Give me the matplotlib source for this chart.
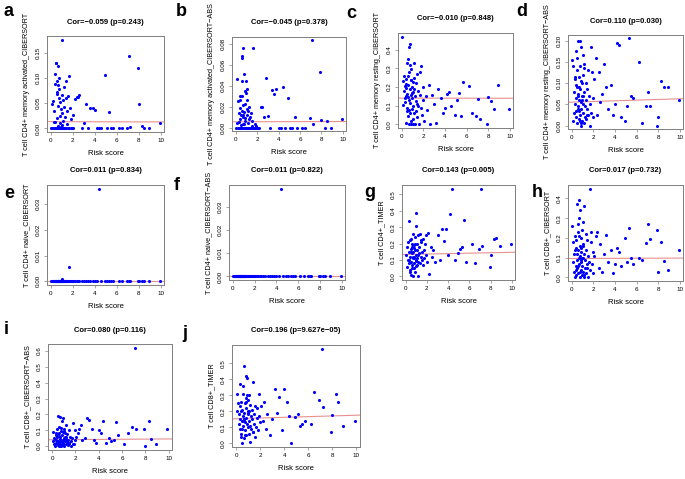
import matplotlib
matplotlib.use("Agg")
import matplotlib.pyplot as plt
import numpy as np

plt.rcParams['font.family'] = ['Liberation Sans', 'DejaVu Sans']

# risk score of each sample (shared by all panels)
risk = [0.05, 0.10, 0.15, 0.20, 0.25, 0.30, 0.33, 0.36, 0.40, 0.43,
        0.46, 0.50, 0.52, 0.55, 0.58, 0.60, 0.63, 0.65, 0.68, 0.70,
        0.72, 0.75, 0.78, 0.80, 0.83, 0.85, 0.88, 0.90, 0.93, 0.95,
        0.98, 1.00, 1.03, 1.05, 1.08, 1.10, 1.13, 1.16, 1.20, 1.24,
        1.28, 1.32, 1.36, 1.40, 1.45, 1.50, 1.55, 1.60, 1.65, 1.70,
        0.38, 0.48, 0.56, 0.62, 0.74, 0.86, 0.97, 1.18, 1.76, 1.82,
        1.88, 1.94, 2.00, 2.06, 0.28, 0.44, 0.66, 0.82, 1.02, 1.42,
        2.20, 2.35, 2.50, 2.60, 2.80, 3.00, 3.20, 3.40, 3.60, 3.80,
        4.00, 4.20, 4.40, 4.60, 4.90, 5.10, 5.30, 5.50, 5.70, 6.20,
        6.50, 6.90, 7.10, 7.20, 7.90, 8.00, 8.30, 8.50, 8.90, 9.90]

cd4_act_cib = [0.0, 0.048, 0.0, 0.055, 0.0, 0.035, 0.0, 0.088, 0.012, 0.130,
               0.0, 0.131, 0.020, 0.095, 0.0, 0.072, 0.045, 0.0, 0.086, 0.004,
               0.061, 0.0, 0.078, 0.025, 0.0, 0.052, 0.010, 0.0, 0.038, 0.0,
               0.066, 0.177, 0.0, 0.030, 0.057, 0.0, 0.015, 0.0, 0.043, 0.0,
               0.022, 0.0, 0.060, 0.0, 0.008, 0.035, 0.0, 0.064, 0.105, 0.0,
               0.108, 0.0, 0.068, 0.0, 0.100, 0.0, 0.003, 0.082, 0.040, 0.0,
               0.018, 0.0, 0.026, 0.0, 0.012, 0.0, 0.125, 0.0, 0.006, 0.095,
               0.058, 0.062, 0.063, 0.067, 0.0, 0.010, 0.048, 0.0, 0.040, 0.041,
               0.036, 0.0, 0.0, 0.0, 0.106, 0.0, 0.033, 0.0, 0.0, 0.0,
               0.0, 0.0, 0.145, 0.003, 0.120, 0.048, 0.005, 0.0, 0.0, 0.011]

cd4_act_abs = [0.0, 0.046, 0.004, 0.025, 0.0, 0.014, 0.0, 0.026, 0.008, 0.019,
               0.0, 0.012, 0.0, 0.066, 0.030, 0.068, 0.0, 0.010, 0.021, 0.003,
               0.076, 0.051, 0.0, 0.015, 0.006, 0.0, 0.022, 0.009, 0.0, 0.044,
               0.033, 0.0, 0.037, 0.012, 0.0, 0.026, 0.004, 0.0, 0.020, 0.008,
               0.0, 0.010, 0.0, 0.014, 0.0, 0.006, 0.001, 0.0, 0.076, 0.0,
               0.030, 0.002, 0.016, 0.044, 0.003, 0.035, 0.0, 0.016, 0.0, 0.003,
               0.0, 0.001, 0.0, 0.0, 0.005, 0.0, 0.012, 0.0, 0.018, 0.0,
               0.0, 0.020, 0.020, 0.010, 0.047, 0.011, 0.0, 0.036, 0.032, 0.037,
               0.0, 0.0, 0.039, 0.0, 0.028, 0.0, 0.0, 0.010, 0.0, 0.0,
               0.0, 0.009, 0.083, 0.003, 0.053, 0.007, 0.0, 0.006, 0.0, 0.008]

cd4_rest_cib = [0.470, 0.230, 0.105, 0.260, 0.180, 0.120, 0.205, 0.010, 0.150, 0.245,
                0.090, 0.330, 0.165, 0.350, 0.045, 0.210, 0.130, 0.415, 0.280, 0.0,
                0.430, 0.115, 0.190, 0.060, 0.240, 0.155, 0.0, 0.295, 0.085, 0.200,
                0.140, 0.030, 0.225, 0.175, 0.100, 0.330, 0.060, 0.190, 0.0, 0.150,
                0.220, 0.070, 0.125, 0.270, 0.040, 0.180, 0.100, 0.0, 0.160, 0.280,
                0.195, 0.070, 0.260, 0.145, 0.320, 0.020, 0.170, 0.250, 0.090, 0.310,
                0.050, 0.200, 0.130, 0.020, 0.140, 0.215, 0.075, 0.240, 0.0, 0.110,
                0.150, 0.080, 0.210, 0.0, 0.160, 0.110, 0.010, 0.190, 0.140, 0.060,
                0.090, 0.165, 0.175, 0.100, 0.050, 0.130, 0.170, 0.045, 0.225, 0.205,
                0.060, 0.045, 0.135, 0.030, 0.0, 0.145, 0.125, 0.085, 0.210, 0.085]

cd4_rest_abs = [0.155, 0.140, 0.010, 0.080, 0.030, 0.110, 0.050, 0.175, 0.020, 0.065,
                0.090, 0.005, 0.130, 0.045, 0.200, 0.070, 0.015, 0.115, 0.035, 0.060,
                0.198, 0.025, 0.085, 0.140, 0.0, 0.055, 0.185, 0.040, 0.100, 0.010,
                0.070, 0.030, 0.120, 0.050, 0.165, 0.005, 0.080, 0.135, 0.020, 0.045,
                0.060, 0.100, 0.015, 0.040, 0.085, 0.130, 0.025, 0.070, 0.0, 0.050,
                0.095, 0.160, 0.040, 0.075, 0.010, 0.105, 0.060, 0.145, 0.030, 0.185,
                0.125, 0.065, 0.020, 0.110, 0.115, 0.035, 0.090, 0.005, 0.070, 0.025,
                0.160, 0.025, 0.125, 0.055, 0.075, 0.145, 0.090, 0.040, 0.095, 0.025,
                0.050, 0.195, 0.190, 0.020, 0.010, 0.045, 0.205, 0.070, 0.065, 0.150,
                0.005, 0.045, 0.080, 0.045, 0.0, 0.020, 0.105, 0.090, 0.090, 0.060]

cd4_naive_cib = [0, 0, 0, 0, 0, 0, 0, 0, 0, 0,
                 0, 0, 0, 0, 0, 0, 0, 0, 0, 0,
                 0, 0, 0, 0, 0, 0, 0, 0, 0, 0,
                 0.0008, 0, 0, 0, 0, 0, 0, 0, 0, 0,
                 0, 0, 0, 0, 0, 0, 0, 0, 0, 0.0055,
                 0, 0, 0, 0, 0, 0, 0, 0, 0, 0,
                 0, 0, 0, 0, 0, 0, 0, 0, 0, 0,
                 0, 0, 0, 0, 0, 0, 0, 0, 0, 0,
                 0, 0, 0.036, 0, 0, 0, 0, 0, 0, 0,
                 0, 0, 0, 0, 0, 0, 0, 0, 0, 0]

cd4_naive_abs = [0, 0, 0, 0, 0, 0, 0, 0, 0, 0,
                 0, 0, 0, 0, 0, 0, 0, 0, 0, 0,
                 0, 0, 0, 0, 0, 0, 0, 0, 0, 0,
                 0, 0, 0, 0, 0, 0, 0, 0, 0, 0,
                 0, 0, 0, 0, 0, 0, 0, 0, 0, 0,
                 0, 0, 0, 0, 0, 0, 0, 0, 0.0004, 0,
                 0, 0, 0, 0, 0, 0, 0, 0, 0, 0,
                 0, 0, 0, 0, 0, 0, 0, 0, 0, 0,
                 0, 0, 0.038, 0, 0, 0, 0, 0, 0, 0,
                 0, 0, 0, 0, 0, 0, 0, 0, 0, 0]

cd4_timer = [0.130, 0.060, 0.180, 0.100, 0.210, 0.080, 0.150, 0.340, 0.120, 0.040,
             0.170, 0.090, 0.230, 0.010, 0.140, 0.200, 0.070, 0.110, 0.260, 0.000,
             0.150, 0.050, 0.190, 0.120, 0.085, 0.240, 0.030, 0.160, 0.310, 0.100,
             0.130, 0.385, 0.070, 0.200, 0.110, 0.160, 0.250, 0.090, 0.000, 0.140,
             0.180, 0.080, 0.260, 0.120, 0.220, 0.100, 0.150, 0.070, 0.230, 0.110,
             0.220, 0.150, 0.050, 0.180, 0.110, 0.200, 0.065, 0.130, 0.160, 0.200,
             0.130, 0.250, 0.090, 0.265, 0.100, 0.025, 0.120, 0.175, 0.095, 0.210,
             0.015, 0.180, 0.120, 0.160, 0.090, 0.250, 0.100, 0.290, 0.215, 0.290,
             0.130, 0.380, 0.530, 0.100, 0.140, 0.170, 0.180, 0.345, 0.090, 0.200,
             0.085, 0.170, 0.535, 0.185, 0.055, 0.130, 0.225, 0.235, 0.185, 0.200]

cd8_cib = [0.260, 0.080, 0.180, 0.030, 0.120, 0.000, 0.210, 0.060, 0.150, 0.010,
           0.090, 0.370, 0.050, 0.230, 0.140, 0.020, 0.390, 0.100, 0.300, 0.070,
           0.160, 0.000, 0.340, 0.110, 0.040, 0.200, 0.080, 0.130, 0.010, 0.240,
           0.060, 0.170, 0.030, 0.100, 0.280, 0.000, 0.120, 0.360, 0.050, 0.090,
           0.220, 0.020, 0.140, 0.070, 0.190, 0.110, 0.000, 0.080, 0.450, 0.040,
           0.190, 0.120, 0.060, 0.270, 0.030, 0.150, 0.100, 0.010, 0.180, 0.230,
           0.070, 0.130, 0.020, 0.110, 0.140, 0.040, 0.210, 0.090, 0.160, 0.050,
           0.210, 0.230, 0.050, 0.170, 0.030, 0.120, 0.215, 0.080, 0.140, 0.020,
           0.070, 0.150, 0.130, 0.060, 0.200, 0.080, 0.250, 0.100, 0.070, 0.100,
           0.090, 0.175, 0.270, 0.195, 0.240, 0.030, 0.180, 0.085, 0.040, 0.140]

cd8_abs = [0.030, 0.090, 0.010, 0.050, 0.000, 0.070, 0.020, 0.040, 0.110, 0.015,
           0.060, 0.005, 0.190, 0.035, 0.080, 0.010, 0.120, 0.045, 0.025, 0.185,
           0.055, 0.000, 0.095, 0.030, 0.160, 0.015, 0.070, 0.040, 0.010, 0.180,
           0.020, 0.105, 0.050, 0.000, 0.085, 0.035, 0.060, 0.010, 0.130, 0.045,
           0.025, 0.075, 0.005, 0.040, 0.100, 0.020, 0.060, 0.000, 0.030, 0.050,
           0.080, 0.020, 0.065, 0.000, 0.115, 0.030, 0.090, 0.055, 0.015, 0.145,
           0.010, 0.100, 0.040, 0.060, 0.045, 0.075, 0.005, 0.035, 0.095, 0.020,
           0.080, 0.110, 0.130, 0.040, 0.050, 0.175, 0.165, 0.110, 0.040, 0.020,
           0.100, 0.080, 0.160, 0.020, 0.050, 0.030, 0.040, 0.150, 0.070, 0.015,
           0.080, 0.120, 0.620, 0.110, 0.105, 0.000, 0.160, 0.045, 0.015, 0.105]

cd8_timer = [0.310, 0.200, 0.250, 0.120, 0.180, 0.090, 0.230, 0.150, 0.060, 0.260,
             0.140, 0.000, 0.210, 0.360, 0.110, 0.170, 0.030, 0.480, 0.190, 0.130,
             0.250, 0.080, 0.420, 0.160, 0.220, 0.050, 0.300, 0.120, 0.410, 0.180,
             0.100, 0.270, 0.060, 0.200, 0.140, 0.300, 0.010, 0.240, 0.170, 0.090,
             0.150, 0.210, 0.070, 0.380, 0.120, 0.180, 0.040, 0.230, 0.100, 0.160,
             0.200, 0.090, 0.310, 0.140, 0.050, 0.260, 0.190, 0.110, 0.220, 0.080,
             0.170, 0.310, 0.130, 0.230, 0.370, 0.040, 0.150, 0.280, 0.200, 0.070,
             0.140, 0.260, 0.090, 0.180, 0.050, 0.150, 0.340, 0.190, 0.290, 0.080,
             0.340, 0.260, 0.170, 0.000, 0.165, 0.180, 0.110, 0.120, 0.140, 0.120,
             0.320, 0.270, 0.590, 0.225, 0.070, 0.175, 0.310, 0.260, 0.110, 0.140]

panel_letters = ['a', 'b', 'c', 'd', 'e', 'f', 'g', 'h', 'i', 'j']
ylabels = ['T cell CD4+ memory activated_CIBERSORT',
           'T cell CD4+ memory activated_CIBERSORT\u2212ABS',
           'T cell CD4+ memory resting_CIBERSORT',
           'T cell CD4+ memory resting_CIBERSORT\u2212ABS',
           'T cell CD4+ naive_CIBERSORT',
           'T cell CD4+ naive_CIBERSORT\u2212ABS',
           'T cell CD4+_TIMER',
           'T cell CD8+_CIBERSORT',
           'T cell CD8+_CIBERSORT\u2212ABS',
           'T cell CD8+_TIMER']
titles = ['Cor=\u22120.059 (p=0.243)', 'Cor=\u22120.045 (p=0.378)',
          'Cor=\u22120.010 (p=0.848)', 'Cor=0.110 (p=0.030)',
          'Cor=0.011 (p=0.834)', 'Cor=0.011 (p=0.822)',
          'Cor=0.143 (p=0.005)', 'Cor=0.017 (p=0.732)',
          'Cor=0.080 (p=0.116)', 'Cor=0.196 (p=9.627e\u221205)']
values = [cd4_act_cib, cd4_act_abs, cd4_rest_cib, cd4_rest_abs, cd4_naive_cib,
          cd4_naive_abs, cd4_timer, cd8_cib, cd8_abs, cd8_timer]
# fitted line: intercept and slope
fit_intercept = [0.0135, 0.0055, 0.141, 0.055, 0.0003, 0.0002, 0.134, 0.096, 0.040, 0.153]
fit_slope = [-0.00005, 0.00002, -0.0001, 0.0008, 0.0, 0.0, 0.0013, 0.0002, 0.0005, 0.0022]
ytick_step = [0.05, 0.02, 0.1, 0.05, 0.01, 0.01, 0.1, 0.1, 0.1, 0.1]
ytick_fmt = ['%.2f', '%.2f', '%.1f', '%.2f', '%.2f', '%.2f', '%.1f', '%.1f', '%.1f', '%.1f']

# axes boxes in pixels (left, top, right, bottom)
boxes = [(47, 36, 164, 132), (232, 37, 346, 131), (398, 33, 513, 128), (568, 35, 683, 129),
         (47, 185, 164, 285), (229, 185, 345, 280), (402, 185, 515, 280), (568, 185, 683, 281),
         (48, 344, 172, 450), (232, 345, 360, 447)]
letter_pos = [(4, 16), (176, 16), (346, 18), (516, 16), (4, 198), (174, 190), (364, 197),
              (532, 197), (4, 334), (182, 338)]

W, H = 685, 479
fig = plt.figure(figsize=(W / 100, H / 100), dpi=100)
x = np.array(risk)
grey = '#808080'

for k in range(10):
    l, t, r, b = boxes[k]
    ax = fig.add_axes([l / W, 1 - b / H, (r - l) / W, (b - t) / H])
    y = np.array(values[k], dtype=float)
    ax.scatter(x, y, s=5, color='#0000FF', linewidths=0, zorder=3)
    xs = np.array([-1, 11])
    ax.plot(xs, fit_intercept[k] + fit_slope[k] * xs, color='#E89090', lw=0.8, zorder=2)

    xr = x.max() - x.min()
    ax.set_xlim(x.min() - 0.04 * xr, x.max() + 0.04 * xr)
    yr = y.max() - y.min()
    ax.set_ylim(y.min() - 0.04 * yr, y.max() + 0.04 * yr)
    ax.set_xticks(np.arange(0, 11, 2))
    ax.set_yticks(np.arange(0, y.max() + 1e-9, ytick_step[k]))
    ax.yaxis.set_major_formatter(matplotlib.ticker.FormatStrFormatter(ytick_fmt[k]))
    ax.tick_params(labelsize=4.5, length=2.5, width=0.5, color=grey, pad=2)
    for lab in ax.get_yticklabels():
        lab.set_rotation(90)
        lab.set_va('center')
    for sp in ax.spines.values():
        sp.set_color(grey)
        sp.set_linewidth(0.7)

    ax.set_xlabel('Risk score', fontsize=5.5, labelpad=5)
    ax.set_ylabel(ylabels[k], fontsize=5.2, labelpad=4)
    ax.set_title(titles[k], fontsize=5.5, fontweight='bold', pad=9)
    fig.text(letter_pos[k][0] / W, 1 - letter_pos[k][1] / H, panel_letters[k],
             fontsize=13, fontweight='bold', va='baseline', ha='left')

fig.savefig('out.png', dpi=100)
